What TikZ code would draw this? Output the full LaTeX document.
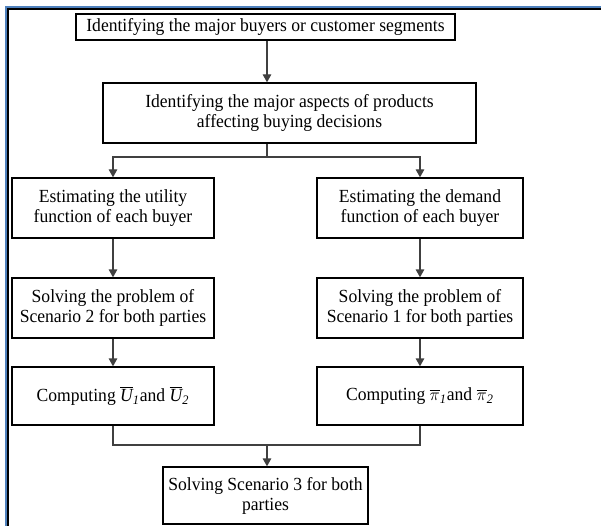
\documentclass[tikz,border=0pt]{standalone}
\usepackage{fontspec}
\setmainfont{Liberation Serif}[FakeStretch=0.95]
\usepackage{amsmath}
\usepackage{xcolor}
\usetikzlibrary{positioning,calc,arrows.meta}

\definecolor{frameblue}{HTML}{4F81BD}
\definecolor{linegray}{HTML}{404040}

\begin{document}
\begin{tikzpicture}[
		x=1pt, y=-1pt,
		proc_box/.style={
			draw=black,            % black frame
			line width=1.3pt,
			align=center,
			inner sep=0pt,
			font=\fontsize{18.5}{20}\selectfont,
			anchor=center
		},
		flow_arrow/.style={      % grey arrow, filled head
			-{Triangle[length=8pt,width=8.5pt]},
			draw=linegray, line width=1.3pt
		},
		flow_line/.style={
			draw=linegray, line width=1.3pt
		}
		]
		\useasboundingbox (0,0) rectangle (601,526);
		
		% --- Outer frame (blue + black, left and top only) ---
		\draw[frameblue, line width=2pt] (6,526) -- (6,7.5) -- (601,7.5);
		\draw[black, line width=2pt] (8,526) -- (8,9.5) -- (601,9.5);
		
		% --- TOP: two boxes ---
		\node[proc_box, minimum width=379pt, minimum height=26pt] (seg) at (265.5,27)
			{Identifying the major buyers or customer segments};
		\node[proc_box, minimum width=373pt, minimum height=60pt] (aspect) at (289.5,113)
			{Identifying the major aspects of products\\affecting buying decisions};
		
		% --- LEFT COLUMN: utility ---
		\node[proc_box, minimum width=202pt, minimum height=60pt] (util) at (113,208)
			{Estimating the utility\\function of each buyer};
		\node[proc_box, minimum width=202pt, minimum height=60pt] (scen2) at (113,308)
			{Solving the problem of\\Scenario 2 for both parties};
		\node[proc_box, minimum width=202pt, minimum height=58pt] (compU) at (113,396)
			{Computing $\overline{\textit{U}}_{\mathit{1}}$and $\overline{\textit{U}}_{\mathit{2}}$};
		
		% --- RIGHT COLUMN: demand ---
		\node[proc_box, minimum width=206pt, minimum height=60pt] (demand) at (420,208)
			{Estimating the demand\\function of each buyer};
		\node[proc_box, minimum width=206pt, minimum height=60pt] (scen1) at (420,308)
			{Solving the problem of\\Scenario 1 for both parties};
		\node[proc_box, minimum width=206pt, minimum height=58pt] (compPi) at (420,396)
			{Computing $\overline{\pi}_{\mathit{1}}$and $\overline{\pi}_{\mathit{2}}$};
		
		% --- BOTTOM ---
		\node[proc_box, minimum width=205pt, minimum height=57pt] (scen3) at (265.5,495.5)
			{Solving Scenario 3 for both\\parties};
		
		% split / join points
		\coordinate (split) at (267,157);
		\coordinate (join) at (267,445);
		
		% --- Connectors ---
		\draw[flow_arrow] (seg.south -| split) -- (aspect.north -| split);
		\draw[flow_line] (aspect.south -| split) -- (split);
		\draw[flow_arrow] (split) -| (util.north);
		\draw[flow_arrow] (split) -| (demand.north);
		
		\draw[flow_arrow] (util) -- (scen2);
		\draw[flow_arrow] (scen2) -- (compU);
		\draw[flow_arrow] (demand) -- (scen1);
		\draw[flow_arrow] (scen1) -- (compPi);
		
		\draw[flow_line] (compU.south) |- (join) -| (compPi.south);
		\draw[flow_arrow] (join) -- (scen3.north -| join);
		
	\end{tikzpicture}
\end{document}
